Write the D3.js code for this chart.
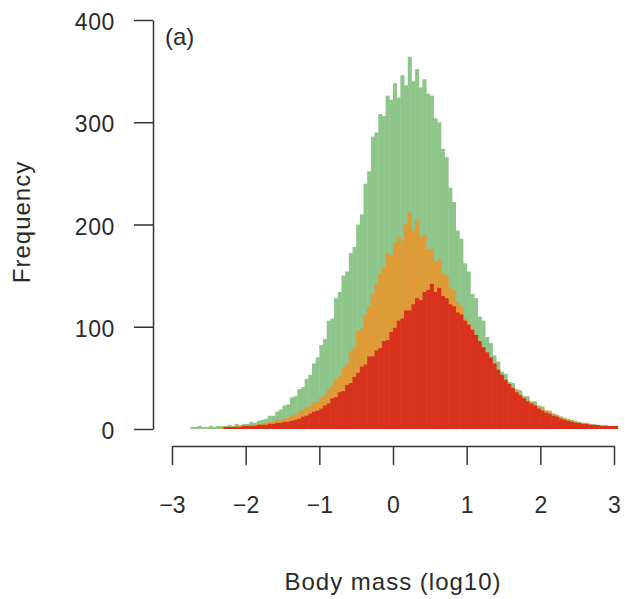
<!DOCTYPE html>
<html>
<head>
<meta charset="utf-8">
<script src="https://cdn.jsdelivr.net/npm/d3@7"></script>
<style>
  html, body { margin: 0; padding: 0; background: #fff; }
  svg { display: block; }
  text { font-family: "Liberation Sans", Arial, Helvetica, sans-serif; fill: #2a2a2a; }
</style>
</head>
<body>
<svg id="chart" width="625" height="599"></svg>
<script>
// ---- data ----
const binStart = -2.75;
const binWidth = 0.05;

const greenCounts = [
  2,2,3,2,2,3,2,3,3,
  3,4,3,5,4,5,
  5,7,6,8,9,
  10,13,13,17,19,
  23,24,31,32,39,
  41,49,53,64,70,
  82,88,106,108,128,
  134,150,154,172,178,
  200,210,240,252,286,
  290,308,306,326,322,
  338,324,346,336,364,
  340,352,334,342,328,
  326,304,300,274,266,
  236,222,194,186,162,
  154,132,128,110,106,
  90,84,72,66,56,
  54,46,45,39,38,
  32,32,27,27,23,
  22,18,18,15,14,
  12,11,10,9,8,
  7,6,6,5,5,
  4,4,4,3,3,3
];

const orangeCounts = [
  0,0,0,0,0,0,0,0,1,
  2,2,2,3,3,3,
  3,4,4,5,5,
  6,7,7,9,8,
  10,11,13,14,17,
  18,21,22,26,27,
  31,33,39,42,48,
  52,60,64,76,80,
  96,98,112,120,132,
  142,152,158,172,170,
  182,188,184,200,212,
  194,204,188,190,176,
  176,164,166,152,150,
  138,136,124,120,108,
  104,98,92,86,80,
  74,68,63,58,53,
  49,45,41,37,34,
  31,28,26,24,22,
  20,18,16,15,13,
  12,10,9,8,7,
  6,6,5,5,4,
  4,3,3,3,3,2
];

const redCounts = [
  0,0,0,0,0,0,0,0,0,
  2,2,2,2,2,3,
  3,3,3,4,4,
  4,5,5,6,6,
  7,7,8,9,10,
  12,13,15,17,18,
  20,23,25,30,31,
  36,37,43,45,51,
  55,61,63,71,71,
  77,79,86,87,95,
  99,106,108,116,116,
  122,128,126,134,136,
  142,134,138,130,128,
  122,120,114,112,106,
  102,97,92,86,80,
  75,70,64,58,53,
  48,44,40,36,33,
  30,27,25,23,20,
  18,16,15,13,12,
  10,9,8,7,6,
  6,5,5,4,4,
  4,3,3,3,3,3
];

const xTicks = [-3, -2, -1, 0, 1, 2, 3];
const xTickLabels = ["\u22123", "\u22122", "\u22121", "0", "1", "2", "3"];
const yTicks = [0, 100, 200, 300, 400];
const yTickLabels = ["0", "100", "200", "300", "400"];

const seriesColors = ["#8dc58a", "#df9b37", "#d9311f"];

// ---- chart ----
const svg = d3.select("#chart");

const x = d3.scaleLinear().domain([-3, 3]).range([172, 614]);
const y = d3.scaleLinear().domain([0, 400]).range([429, 20]);

const defs = svg.append("defs");
defs.append("filter").attr("id", "soft")
  .append("feGaussianBlur").attr("stdDeviation", 0.7);

const bars = svg.append("g").attr("filter", "url(#soft)");
[greenCounts, orangeCounts, redCounts].forEach((counts, si) => {
  bars.append("g")
    .selectAll("rect")
    .data(counts)
    .join("rect")
    .attr("x", (d, i) => x(binStart + i * binWidth))
    .attr("width", (d, i) => x(binStart + (i + 1) * binWidth) - x(binStart + i * binWidth) + 0.4)
    .attr("y", d => y(d))
    .attr("height", d => y(0) - y(d))
    .attr("fill", seriesColors[si]);
});

// y axis
const yAxis = svg.append("g")
  .attr("transform", "translate(153,0)")
  .call(d3.axisLeft(y).tickValues(yTicks).tickFormat((d, i) => yTickLabels[i])
    .tickSize(19).tickSizeOuter(0).tickPadding(19));
yAxis.selectAll("path, line").attr("stroke", "#333").attr("stroke-width", 1.5);
yAxis.selectAll("text")
  .attr("font-size", 23)
  .attr("dy", "0.42em")
  .style("font-family", "'Liberation Sans', Arial, sans-serif")
  .attr("fill", "#2a2a2a")
  .attr("letter-spacing", 0.6);

// x axis
const xAxis = svg.append("g")
  .attr("transform", "translate(0,446)")
  .call(d3.axisBottom(x).tickValues(xTicks).tickFormat((d, i) => xTickLabels[i])
    .tickSize(19).tickSizeOuter(0).tickPadding(32));
xAxis.selectAll("path, line").attr("stroke", "#333").attr("stroke-width", 1.5);
xAxis.selectAll("text")
  .attr("font-size", 23)
  .style("font-family", "'Liberation Sans', Arial, sans-serif")
  .attr("fill", "#2a2a2a");

// axis titles
svg.append("text")
  .attr("x", 393).attr("y", 590)
  .attr("text-anchor", "middle")
  .attr("font-size", 24)
  .attr("letter-spacing", 1)
  .text("Body mass (log10)");

svg.append("text")
  .attr("transform", "translate(30,222) rotate(-90)")
  .attr("text-anchor", "middle")
  .attr("font-size", 24)
  .attr("letter-spacing", 1)
  .text("Frequency");

svg.append("text")
  .attr("x", 165).attr("y", 45)
  .attr("font-size", 24)
  .text("(a)");
</script>
</body>
</html>
